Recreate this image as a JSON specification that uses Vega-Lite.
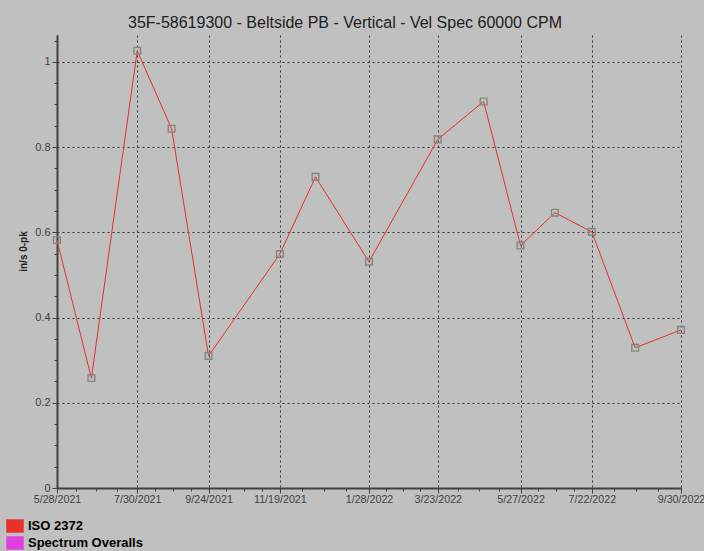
{
  "$schema": "https://vega.github.io/schema/vega-lite/v6.json",
  "width": 624,
  "height": 453,
  "autosize": "none",
  "padding": {"left": 57, "top": 35, "right": 23, "bottom": 63},
  "background": "#c0c0c0",
  "config": {
    "view": {"stroke": null},
    "font": "Liberation Sans",
    "axis": {"labelFont": "Liberation Sans", "labelFontSize": 11, "labelColor": "#404040", "tickColor": "#404040", "domainColor": "#404040"}
  },
  "title": {
    "text": "35F-58619300 - Beltside PB - Vertical - Vel Spec 60000 CPM",
    "font": "Liberation Sans",
    "fontSize": 16,
    "fontWeight": "normal",
    "color": "#202020",
    "anchor": "middle",
    "dx": -24,
    "offset": 4
  },
  "data": {
    "values": [
      {"date": "2021-05-28", "value": 0.582, "series": "ISO 2372"},
      {"date": "2021-06-24", "value": 0.258, "series": "ISO 2372"},
      {"date": "2021-07-30", "value": 1.026, "series": "ISO 2372"},
      {"date": "2021-08-26", "value": 0.843, "series": "ISO 2372"},
      {"date": "2021-09-24", "value": 0.310, "series": "ISO 2372"},
      {"date": "2021-11-19", "value": 0.549, "series": "ISO 2372"},
      {"date": "2021-12-17", "value": 0.730, "series": "ISO 2372"},
      {"date": "2022-01-28", "value": 0.531, "series": "ISO 2372"},
      {"date": "2022-03-23", "value": 0.818, "series": "ISO 2372"},
      {"date": "2022-04-28", "value": 0.907, "series": "ISO 2372"},
      {"date": "2022-05-27", "value": 0.569, "series": "ISO 2372"},
      {"date": "2022-06-23", "value": 0.646, "series": "ISO 2372"},
      {"date": "2022-07-22", "value": 0.601, "series": "ISO 2372"},
      {"date": "2022-08-25", "value": 0.329, "series": "ISO 2372"},
      {"date": "2022-09-30", "value": 0.371, "series": "ISO 2372"}
    ]
  },
  "resolve": {"axis": {"x": "independent", "y": "independent"}},
  "layer": [
    {
      "mark": {"type": "line", "strokeWidth": 1, "interpolate": "linear"},
      "encoding": {
        "x": {
          "field": "date", "type": "temporal",
          "scale": {"type": "utc", "domain": [{"year": 2021, "month": 5, "date": 28, "utc": true}, {"year": 2022, "month": 9, "date": 30, "utc": true}], "nice": false},
          "axis": {
            "orient": "bottom",
            "title": null,
            "format": "%-m/%-d/%Y",
            "values": [
              {"year": 2021, "month": 5, "date": 28, "utc": true},
              {"year": 2021, "month": 7, "date": 30, "utc": true},
              {"year": 2021, "month": 9, "date": 24, "utc": true},
              {"year": 2021, "month": 11, "date": 19, "utc": true},
              {"year": 2022, "month": 1, "date": 28, "utc": true},
              {"year": 2022, "month": 3, "date": 23, "utc": true},
              {"year": 2022, "month": 5, "date": 27, "utc": true},
              {"year": 2022, "month": 7, "date": 22, "utc": true},
              {"year": 2022, "month": 9, "date": 30, "utc": true}
            ],
            "grid": true,
            "gridColor": "#303030",
            "gridDash": [2, 3],
            "gridWidth": 1,
            "gridOpacity": 1,
            "domain": true,
            "domainWidth": 2,
            "tickSize": 5,
            "labelFontSize": 10.7,
            "labelPadding": 1,
            "labelOverlap": false,
            "labelFlush": false
          }
        },
        "y": {
          "field": "value", "type": "quantitative",
          "scale": {"domain": [0, 1.063], "nice": false, "zero": true},
          "axis": {
            "orient": "left",
            "title": "in/s 0-pk",
            "titleFont": "Liberation Sans",
            "titleFontSize": 10,
            "titleFontWeight": "bold",
            "titleColor": "#202020",
            "titleX": -34,
            "titleY": 216,
            "titleAngle": -90,
            "titleAlign": "center",
            "titleBaseline": "middle",
            "values": [0, 0.2, 0.4, 0.6, 0.8, 1],
            "format": "~g",
            "grid": true,
            "gridColor": "#303030",
            "gridDash": [2, 3],
            "gridWidth": 1,
            "gridOpacity": 1,
            "domain": true,
            "domainWidth": 2,
            "tickSize": 5,
            "labelPadding": 2
          }
        },
        "color": {
          "field": "series", "type": "nominal",
          "scale": {"domain": ["ISO 2372", "Spectrum Overalls"], "range": ["#e8302c", "#e040e0"]},
          "legend": {
            "orient": "none",
            "legendX": -51,
            "legendY": 482,
            "title": null,
            "symbolType": "M-1,-0.76H1V0.76H-1Z",
            "symbolSize": 289,
            "symbolStrokeWidth": 0,
            "labelFont": "Liberation Sans",
            "labelFontSize": 13,
            "labelFontWeight": "bold",
            "labelColor": "#000000",
            "rowPadding": 0,
            "labelOffset": 4,
            "encode": {"symbols": {"update": {"fill": {"scale": "color", "field": "value"}, "stroke": {"value": "#a03030"}, "strokeWidth": {"value": 0.5}}}}
          }
        }
      }
    },
    {
      "mark": {"type": "point", "shape": "square", "size": 45, "filled": false, "stroke": "#858585", "strokeWidth": 1.4, "opacity": 1},
      "encoding": {
        "x": {
          "field": "date", "type": "temporal",
          "axis": {
            "orient": "bottom", "title": null, "labels": false, "grid": false, "domain": false, "tickSize": 3,
            "values": [
              {"year": 2021, "month": 6, "date": 12, "utc": true},
              {"year": 2021, "month": 6, "date": 28, "utc": true},
              {"year": 2021, "month": 7, "date": 14, "utc": true},
              {"year": 2021, "month": 8, "date": 13, "utc": true},
              {"year": 2021, "month": 8, "date": 27, "utc": true},
              {"year": 2021, "month": 9, "date": 10, "utc": true},
              {"year": 2021, "month": 10, "date": 8, "utc": true},
              {"year": 2021, "month": 10, "date": 22, "utc": true},
              {"year": 2021, "month": 11, "date": 5, "utc": true},
              {"year": 2021, "month": 12, "date": 6, "utc": true},
              {"year": 2021, "month": 12, "date": 24, "utc": true},
              {"year": 2022, "month": 1, "date": 10, "utc": true},
              {"year": 2022, "month": 2, "date": 10, "utc": true},
              {"year": 2022, "month": 2, "date": 24, "utc": true},
              {"year": 2022, "month": 3, "date": 9, "utc": true},
              {"year": 2022, "month": 4, "date": 8, "utc": true},
              {"year": 2022, "month": 4, "date": 24, "utc": true},
              {"year": 2022, "month": 5, "date": 10, "utc": true},
              {"year": 2022, "month": 6, "date": 10, "utc": true},
              {"year": 2022, "month": 6, "date": 24, "utc": true},
              {"year": 2022, "month": 7, "date": 8, "utc": true},
              {"year": 2022, "month": 8, "date": 8, "utc": true},
              {"year": 2022, "month": 8, "date": 26, "utc": true},
              {"year": 2022, "month": 9, "date": 12, "utc": true}
            ]
          }
        },
        "y": {
          "field": "value", "type": "quantitative",
          "axis": {
            "orient": "left", "title": null, "labels": false, "grid": false, "domain": false, "tickSize": 3,
            "values": [0.05, 0.1, 0.15, 0.25, 0.3, 0.35, 0.45, 0.5, 0.55, 0.65, 0.7, 0.75, 0.85, 0.9, 0.95, 1.05]
          }
        }
      }
    }
  ]
}
